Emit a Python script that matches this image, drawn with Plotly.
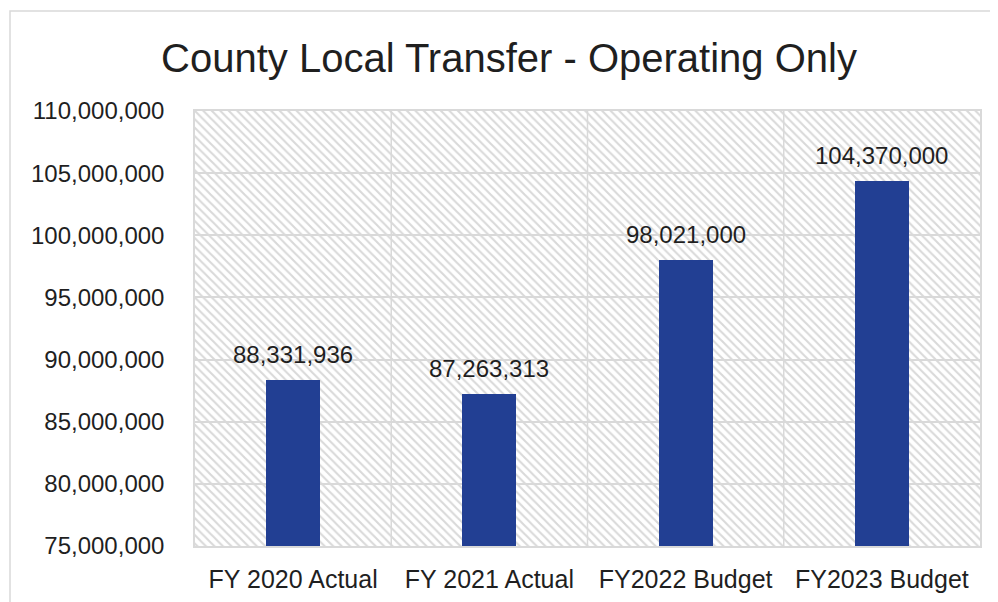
import plotly.graph_objects as go

categories = ["FY 2020 Actual", "FY 2021 Actual", "FY2022 Budget", "FY2023 Budget"]
values = [88331936, 87263313, 98021000, 104370000]
label_texts = ["88,331,936", "87,263,313", "98,021,000", "104,370,000"]
y_min, y_max, y_step = 75000000, 110000000, 5000000
title_text = "County Local Transfer - Operating Only"

FONT = "Liberation Sans"
TEXT = "#1f1f1f"
GRID = "#d9d9d9"
BAR = "#223f93"

# page has an 8px body offset; size the figure accordingly
OFF = 8
W, H = 998 - OFF, 602 - OFF
ML, MT = 195 - OFF, 111 - OFF
MR, MB = 998 - 980, 602 - 546
pw, ph = W - ML - MR, H - MT - MB

fig = go.Figure()

# hatched plot background (decorative)
fig.add_trace(go.Bar(
    x=categories, y=[y_max - y_min] * len(categories), base=[y_min] * len(categories),
    width=1, marker=dict(color=GRID, line=dict(width=0),
                         pattern=dict(shape="\\", fillmode="replace", size=6, solidity=0.35)),
    hoverinfo="skip", showlegend=False,
))

fig.add_trace(go.Bar(
    x=categories, y=values, width=0.275,
    marker=dict(color=BAR, line=dict(width=0)),
    showlegend=False,
))

for c, v, t in zip(categories, values, label_texts):
    fig.add_annotation(x=c, y=v, text=t, showarrow=False, yanchor="bottom",
                       yshift=10, font=dict(family=FONT, size=24, color=TEXT))

for i in range(1, len(categories)):
    fig.add_shape(type="line", xref="x", yref="paper", x0=i - 0.5, x1=i - 0.5, y0=0, y1=1,
                  line=dict(color=GRID, width=1.5), layer="below")

# outer chart border (top/left visible, right/bottom beyond the page)
bx0, by0 = 10 - OFF, 11 - OFF
fig.add_shape(type="rect", xref="paper", yref="paper",
              x0=(bx0 - ML) / pw, x1=(W + 20 - ML) / pw,
              y0=(ph - (H + 20 - MT)) / ph, y1=(ph - (by0 - MT)) / ph,
              line=dict(color=GRID, width=1.5), fillcolor="rgba(0,0,0,0)", layer="below")

fig.update_layout(
    width=W, height=H,
    margin=dict(l=ML, r=MR, t=MT, b=MB, autoexpand=False),
    paper_bgcolor="white", plot_bgcolor="white",
    barmode="overlay", bargap=0,
    title=dict(text=title_text, x=(509 - OFF) / W, xanchor="center", y=1 - (58 - OFF) / H,
               yanchor="middle", font=dict(family=FONT, size=40, color=TEXT),
               automargin=False),
    font=dict(family=FONT, color=TEXT),
)
fig.update_xaxes(type="category", showgrid=False, showline=True, mirror=True, linecolor=GRID,
                 linewidth=1.5, ticks="", tickfont=dict(family=FONT, size=25, color=TEXT),
                 ticklabelstandoff=10, range=[-0.5, len(categories) - 0.5], automargin=False)
fig.update_yaxes(range=[y_min, y_max], dtick=y_step, tick0=y_min, tickformat=",d",
                 showgrid=True, gridcolor=GRID, gridwidth=1.5, showline=True, mirror=True,
                 linecolor=GRID, linewidth=1.5, ticks="", zeroline=False, automargin=False,
                 tickfont=dict(family=FONT, size=24, color=TEXT), ticklabelstandoff=24)

fig.write_html("out.html")
